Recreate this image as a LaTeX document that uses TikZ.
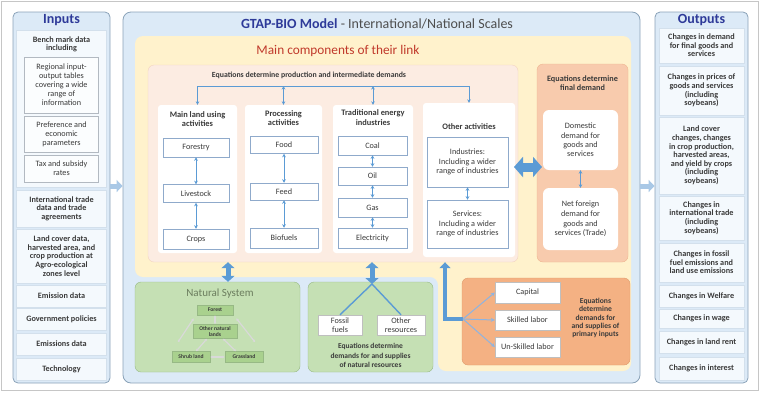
\documentclass[tikz,border=0pt]{standalone}
\usepackage{fontspec}
\setmainfont{Carlito}
\usetikzlibrary{arrows.meta,calc}
\definecolor{bgblue}{HTML}{DCEAF7}
\definecolor{panelline}{HTML}{8AA2B8}
\definecolor{iofill}{HTML}{F4F9FD}
\definecolor{ioline}{HTML}{D3E0EC}
\definecolor{titleblue}{HTML}{2E3A99}
\definecolor{txt}{HTML}{3A3A3A}
\definecolor{yellowc}{HTML}{FFF2CC}
\definecolor{pinkc}{HTML}{FCECE2}
\definecolor{pinkline}{HTML}{F3D3C0}
\definecolor{fdc}{HTML}{F8CBAD}
\definecolor{fdline}{HTML}{EEB48F}
\definecolor{pic}{HTML}{F4B183}
\definecolor{picline}{HTML}{DE9A6B}
\definecolor{greenc}{HTML}{C5E0B4}
\definecolor{greenline}{HTML}{97B985}
\definecolor{greendark}{HTML}{A9D18E}
\definecolor{arrowblue}{HTML}{5B9BD5}
\definecolor{fanblue}{HTML}{8DB4E2}
\definecolor{sidec}{HTML}{A9C8E6}
\definecolor{boxline}{HTML}{8FAACB}
\definecolor{redc}{HTML}{C0392B}
\definecolor{natgray}{HTML}{6B7D5E}
\begin{document}
\begin{tikzpicture}[x=1pt,y=-1pt,
  side/.style={draw=panelline, fill=bgblue, rounded corners=5pt, line width=0.8pt, inner sep=0},
  iobox/.style={draw=ioline, fill=iofill, inner sep=1pt, align=center, text=txt, font=\bfseries\fontsize{8.2}{8.6}\selectfont},
  subbox/.style={draw=ioline!60!gray, fill=white!60!iofill, align=center, text=txt, inner sep=1pt, font=\fontsize{8.2}{9}\selectfont},
  col/.style={fill=white, rounded corners=3pt, inner sep=0},
  ibox/.style={draw=boxline, fill=white, align=center, text=txt, inner sep=1pt, line width=0.5pt, font=\fontsize{8.2}{9.5}\selectfont},
  coltitle/.style={align=center, text=txt, font=\bfseries\fontsize{8.4}{9.2}\selectfont},
  boldtxt/.style={align=center, text=txt, font=\bfseries\fontsize{8.2}{9.2}\selectfont},
  thintwo/.style={draw=arrowblue, line width=0.9pt, {Stealth[length=3.5pt,width=3.5pt]}-{Stealth[length=3.5pt,width=3.5pt]}},
  fatv/.style={draw=arrowblue, line width=5pt, {Triangle[width=13pt,length=6pt]}-{Triangle[width=13pt,length=6pt]}},
  bigdouble/.style={draw=arrowblue, line width=9pt, {Triangle[width=20pt,length=9pt]}-{Triangle[width=20pt,length=9pt]}},
  fatL/.style={draw=arrowblue, line width=4.5pt, line join=miter, -{Triangle[width=11pt,length=6pt]}},
  fanarrow/.style={draw=fanblue, line width=1pt, -{Stealth[length=4pt,width=4pt]}},
  sidearrow/.style={draw=sidec, line width=5pt, -{Triangle[width=12pt,length=6pt]}},
  natbox/.style={fill=greendark, draw=greenline, line width=0.4pt, align=center, text=txt, inner sep=0.5pt, font=\bfseries\fontsize{5.6}{6}\selectfont},
  natarr/.style={draw=gray!30, line width=1.2pt, {Latex[length=2.5pt,width=3pt]}-{Latex[length=2.5pt,width=3pt]}},
  smallbox/.style={fill=white, draw=gray!50, align=center, text=txt, inner sep=0.5pt, font=\fontsize{8.2}{9}\selectfont}
]
\useasboundingbox (0,0) rectangle (760,400);
\draw[gray!45, line width=0.8pt] (1.5,1.5) rectangle (758.5,390);

% ---------- Inputs ----------
\node[side, minimum width=97, minimum height=371] (inp) at (61.5,197.5) {};
\node[text=titleblue, font=\bfseries\fontsize{14}{16}\selectfont] (inT) at (61.5,20) {Inputs};
\node[iobox, minimum width=90, minimum height=157] (bench) at (61.5,108.5) {};
\node[iobox, draw=none, fill=none] (benchT) at (61.5,44.5) {Bench mark data\\including};
\node[subbox, minimum width=74, minimum height=56] (reg) at (61.5,85) {Regional input-\\output tables\\covering a wide\\range of\\information};
\node[subbox, minimum width=74, minimum height=36] (pref) at (61.5,134) {Preference and\\economic\\parameters};
\node[subbox, minimum width=74, minimum height=27] (tax) at (61.5,168.5) {Tax and subsidy\\rates};
\node[iobox, minimum width=90, minimum height=37] (trade) at (61.5,208.5) {International trade\\data and trade\\agreements};
\node[iobox, minimum width=90, minimum height=54] (land) at (61.5,256) {Land cover data,\\harvested area, and\\crop production at\\Agro-ecological\\zones level};
\node[iobox, minimum width=90, minimum height=22] (emis) at (61.5,296) {Emission data};
\node[iobox, minimum width=90, minimum height=22] (gov) at (61.5,319.5) {Government policies};
\node[iobox, minimum width=90, minimum height=22] (emis2) at (61.5,344) {Emissions data};
\node[iobox, minimum width=90, minimum height=22] (tech) at (61.5,369) {Technology};

% ---------- Outputs ----------
\node[side, minimum width=93, minimum height=371] (out) at (701.5,197.5) {};
\node[text=titleblue, font=\bfseries\fontsize{14}{16}\selectfont] (outT) at (701.5,20) {Outputs};
\node[iobox, minimum width=85, minimum height=35] (o1) at (701.5,45.5) {Changes in demand\\for final goods and\\services};
\node[iobox, minimum width=85, minimum height=49] (o2) at (701.5,90.5) {Changes in prices of\\goods and services\\(including\\soybeans)};
\node[iobox, minimum width=85, minimum height=77] (o3) at (701.5,155.5) {Land cover\\changes, changes\\in crop production,\\harvested areas,\\and yield by crops\\(including\\soybeans)};
\node[iobox, minimum width=85, minimum height=44] (o4) at (701.5,218) {Changes in\\international trade\\(including\\soybeans)};
\node[iobox, minimum width=85, minimum height=39] (o5) at (701.5,262.5) {Changes in fossil\\fuel emissions and\\land use emissions};
\node[iobox, minimum width=85, minimum height=22] (o6) at (701.5,296) {Changes in Welfare};
\node[iobox, minimum width=85, minimum height=19] (o7) at (701.5,318.5) {Changes in wage};
\node[iobox, minimum width=85, minimum height=22] (o8) at (701.5,342) {Changes in land rent};
\node[iobox, minimum width=85, minimum height=23] (o9) at (701.5,368.5) {Changes in interest};

% ---------- Main ----------
\node[side, rounded corners=8pt, minimum width=517, minimum height=371] (main) at (381.5,197.5) {};
\node[font=\fontsize{14}{16}\selectfont, text=txt!90] (mainT) at (377,24) {\textcolor{titleblue}{\bfseries GTAP-BIO Model} - International/National Scales};
\path[fill=yellowc, rounded corners=8pt] (135,36) -- (631,36) -- (631,371) -- (438,371) -- (438,277) -- (135,277) -- cycle;
\node[text=redc, font=\fontsize{13.3}{15}\selectfont] (mcT) at (338,51) {Main components of their link};

% side arrows
\coordinate (ay) at (0,186);
\draw[sidearrow] (inp.east |- ay) -- (main.west |- ay);
\draw[sidearrow] (main.east |- ay) -- (out.west |- ay);

% pink panel
\node[fill=pinkc, draw=pinkline, rounded corners=6pt, minimum width=370, minimum height=197, inner sep=0] (pink) at (333,163.5) {};
\node[coltitle, font=\bfseries\fontsize{7.8}{9}\selectfont] (pinkT) at (309,75.5) {Equations determine production and intermediate demands};

\node[col, minimum width=79, minimum height=148] (c1) at (197.5,179) {};
\node[col, minimum width=77, minimum height=148] (c2) at (283.5,179) {};
\node[col, minimum width=80, minimum height=148] (c3) at (373,179) {};
\node[col, minimum width=92, minimum height=154] (c4) at (469,180) {};

\node[coltitle] (c1T) at (197.5,119) {Main land using\\activities};
\node[coltitle] (c2T) at (283.5,118) {Processing\\activities};
\node[coltitle] (c3T) at (373,117.5) {Traditional energy\\industries};
\node[coltitle] (c4T) at (469,127) {Other activities};

\node[ibox, minimum width=66, minimum height=19] (forestry) at (196,147.5) {Forestry};
\node[ibox, minimum width=66, minimum height=18] (livestock) at (196,193.5) {Livestock};
\node[ibox, minimum width=66, minimum height=20] (crops) at (196,239) {Crops};
\node[ibox, minimum width=68, minimum height=17] (food) at (284,145) {Food};
\node[ibox, minimum width=68, minimum height=17] (feed) at (284,191.5) {Feed};
\node[ibox, minimum width=68, minimum height=20] (biofuels) at (284,238) {Biofuels};
\node[ibox, minimum width=69, minimum height=19] (coal) at (372.5,145.5) {Coal};
\node[ibox, minimum width=69, minimum height=18] (oil) at (372.5,176) {Oil};
\node[ibox, minimum width=69, minimum height=19] (gas) at (372.5,207.5) {Gas};
\node[ibox, minimum width=69, minimum height=20] (elec) at (372.5,238) {Electricity};
\node[ibox, minimum width=81, minimum height=50] (ind) at (467.5,162) {Industries:\\Including  a wider\\range of industries};
\node[ibox, minimum width=81, minimum height=48] (serv) at (467.5,224) {Services:\\Including  a wider\\range of industries};

\draw[thintwo] (forestry) -- (livestock);
\draw[thintwo] (livestock) -- (crops);
\draw[thintwo] (food) -- (feed);
\draw[thintwo] (feed) -- (biofuels);
\draw[thintwo] (coal) -- (oil);
\draw[thintwo] (oil) -- (gas);
\draw[thintwo] (gas) -- (elec);
\draw[thintwo] (ind) -- (serv);

\coordinate (brL) at (197.5,86);
\coordinate (brR) at (469,86);
\draw[thintwo] (c1.north) -- (brL) -- (brR) -- (c4.north);
\draw[thintwo] (c2.north |- brL) -- (c2.north);
\draw[thintwo] (c3.north |- brL) -- (c3.north);

% final demand
\node[fill=fdc, draw=fdline, rounded corners=6pt, minimum width=91, minimum height=198, inner sep=0] (fd) at (582.5,163) {};
\node[boldtxt] (fdT) at (582.5,83.5) {Equations determine\\final demand};
\node[fill=white, rounded corners=6pt, minimum width=75, minimum height=60, align=center, text=txt, font=\fontsize{8.2}{9.4}\selectfont] (dom) at (580.5,140) {Domestic\\demand for\\goods and\\services};
\node[fill=white, rounded corners=6pt, minimum width=75, minimum height=62, align=center, text=txt, font=\fontsize{8.2}{9.8}\selectfont] (nfd) at (580.5,219) {Net foreign\\demand for\\goods and\\services (Trade)};
\draw[thintwo] (dom) -- (nfd);

\coordinate (bdL) at (514,167);
\coordinate (bdR) at (542,167);
\draw[bigdouble] (bdL) -- (bdR);

% ---------- Natural system ----------
\node[fill=greenc, draw=greenline, rounded corners=6pt, minimum width=165, minimum height=90, inner sep=0] (nat) at (217.5,327) {};
\node[text=natgray, font=\fontsize{11}{13}\selectfont] (natT) at (220,294) {Natural System};
\node[natbox, minimum width=36, minimum height=10] (forest) at (215,310) {Forest};
\node[natbox, minimum width=44, minimum height=14] (onl) at (215,331.5) {Other natural\\lands};
\node[natbox, minimum width=38, minimum height=11] (shrub) at (191,357) {Shrub land};
\node[natbox, minimum width=38, minimum height=11] (grass) at (244,357) {Grassland};
\draw[natarr] ($(forest.south west)+(-3,3)$) -- ($(shrub.north west)+(6,-9)$);
\draw[natarr] ($(forest.south east)+(3,3)$) -- ($(grass.north east)+(-8,-9)$);
\draw[natarr] (forest.south) -- (onl.north);
\draw[natarr] ($(onl.south)+(-8,0)$) -- ($(shrub.north)+(5,0)$);
\draw[natarr] ($(onl.south)+(8,0)$) -- ($(grass.north)+(-8,0)$);
\draw[natarr] (shrub.east) -- (grass.west);

% ---------- Natural resources ----------
\node[fill=greenc, draw=greenline, rounded corners=6pt, minimum width=125, minimum height=90, inner sep=0] (res) at (370.5,327) {};
\node[smallbox, minimum width=44, minimum height=20] (fossil) at (340,325) {Fossil\\fuels};
\node[smallbox, minimum width=48, minimum height=20] (othres) at (401,325) {Other\\resources};
\node[boldtxt, font=\bfseries\fontsize{7.5}{9.8}\selectfont] (resT) at (370.5,355.5) {Equations determine\\demands for and supplies\\of natural resources};

\coordinate (nx) at (228,0);
\coordinate (rx) at (372,0);
\coordinate (apex) at (372,284);
\draw[fatv] (pink.south -| nx) -- (nat.north -| nx);
\draw[fatv] (pink.south -| rx) -- (apex);
\draw[arrowblue, line width=1.4pt] (apex) -- (fossil.north);
\draw[arrowblue, line width=1.4pt] (apex) -- (othres.north);

% ---------- Primary inputs ----------
\node[fill=pic, draw=picline, rounded corners=6pt, minimum width=168, minimum height=87, inner sep=0] (prim) at (546,321.5) {};
\node[smallbox, minimum width=65, minimum height=21] (cap) at (527.5,292.5) {Capital};
\node[smallbox, minimum width=65, minimum height=20] (skl) at (527.5,320) {Skilled labor};
\node[smallbox, minimum width=65, minimum height=20] (uskl) at (527.5,347) {Un-Skilled labor};
\node[boldtxt, font=\bfseries\fontsize{7.6}{8.3}\selectfont] (primT) at (595.5,318) {Equations\\determine\\demands for\\and supplies of\\primary inputs};

\coordinate (fan) at (463,319);
\coordinate (lc) at (445,319);
\draw[fatL] (fan) -- (lc) -- (lc |- pink.south);
\draw[fanarrow] (fan) -- (cap.west);
\draw[fanarrow] (fan) -- (skl.west);
\draw[fanarrow] (fan) -- (uskl.west);
\end{tikzpicture}
\end{document}
